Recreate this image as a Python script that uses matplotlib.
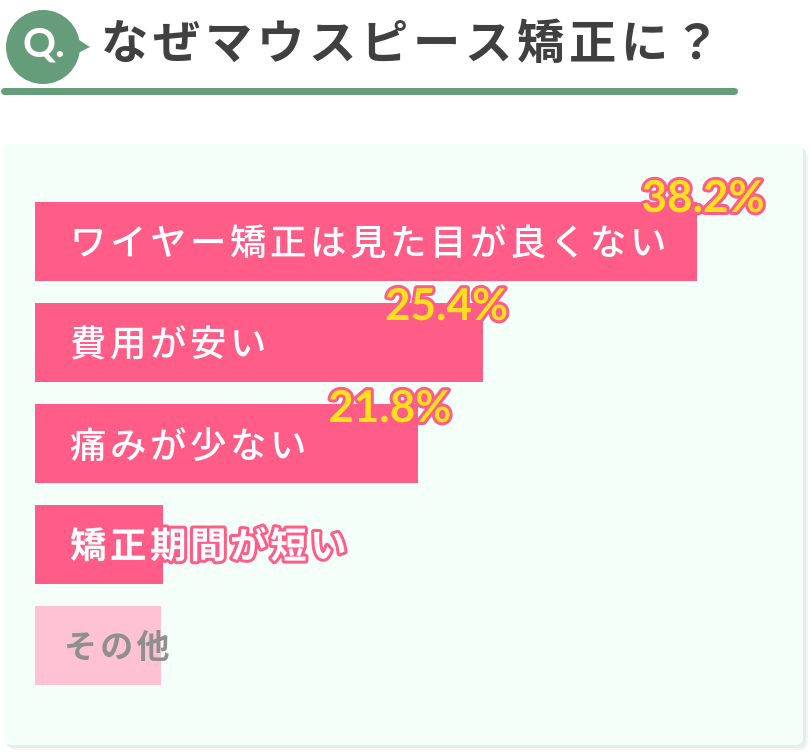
import matplotlib
matplotlib.use("Agg")
import matplotlib.pyplot as plt
import matplotlib.patheffects as pe
from matplotlib.patches import FancyBboxPatch, Circle, Polygon

W, H = 811, 752
HS = "\u200a"
JP = ['Noto Sans CJK JP', 'DejaVu Sans']

title = "なぜマウスピース矯正に？"
categories = ["ワイヤー矯正は見た目が良くない", "費用が安い", "痛みが少ない", "矯正期間が短い", "その他"]
bar_values = [37.8, 25.6, 21.9, 7.3, 7.2]
value_labels = ["38.2%", "25.4%", "21.8%", "", ""]
label_dx = [-55, -98, -90, 0, 0]
label_dy = [-4, 3, 4, 0, 0]

GREEN = "#659C7A"; PINK = "#FF5C87"; PALE = "#FFC2D4"; MINT = "#F4FFFA"; YEL = "#FFE01F"
px = 72 / 100

fig = plt.figure(figsize=(W / 100, H / 100), dpi=100, facecolor="white")
bg = fig.add_axes([0, 0, 1, 1])
bg.set_xlim(0, W); bg.set_ylim(H, 0); bg.axis("off")

# panel with soft shadow
for off, col in [(5, "#F4F5F5"), (3, "#EAECEB")]:
    bg.add_patch(FancyBboxPatch((11 + off, 152 + off), 784, 585,
                                boxstyle="round,pad=8", fc=col, ec="none"))
bg.add_patch(FancyBboxPatch((11, 152), 784, 585, boxstyle="round,pad=8", fc=MINT, ec="none"))

# header
bg.add_patch(Circle((43, 47), 37, fc=GREEN, ec="none"))
bg.add_patch(Polygon([[76, 38], [90, 47], [76, 54]], closed=True, fc=GREEN, ec="none"))
bg.text(44, 45, "Q.", color="white", fontsize=41 * px, fontweight="bold", family="Lato",
        ha="center", va="center")
bg.plot([3.5, 733.5], [91, 91], color=GREEN, lw=7 * px, solid_capstyle="round")
bg.text(101, 45, HS.join(title), color="#404040", fontsize=47.3 * px, fontweight="bold", family=JP,
        ha="left", va="center")

# bars
top, bottom = 191, 696
left = 35
scale = 17.5
ax = fig.add_axes([left / W, 1 - bottom / H, (W - left) / W, (bottom - top) / H])
ax.patch.set_alpha(0)
ax.set_xlim(0, (W - left) / scale)
ax.set_ylim(4.5, -0.5)
ax.axis("off")
pos = list(range(len(categories)))
colors = [PINK, PINK, PINK, PINK, PALE]
ax.barh(pos, bar_values, height=79 / 101, color=colors)

for i, c in enumerate(categories):
    other = i == 4
    x_txt = (64 - left if other else 70 - left) / scale
    t = ax.text(x_txt, i + 3 / 101, HS.join(c), color="#8F8F8F" if other else "white",
                fontsize=(33 if other else 36.4) * px,
                fontweight="bold" if other or i == 3 else "medium", family=JP,
                ha="left", va="center")
    if i == 3:
        t.set_path_effects([pe.withStroke(linewidth=6 * px, foreground=PINK)])

for i, (v, lab) in enumerate(zip(bar_values, value_labels)):
    if not lab:
        continue
    bar_top = i - 79 / 202
    t = ax.text(v + label_dx[i] / scale, bar_top + (label_dy[i] + 1) / 101, lab, color=YEL,
                fontsize=44 * px, fontweight="bold", family="Lato", ha="left", va="center")
    t.set_path_effects([pe.withStroke(linewidth=6 * px, foreground=PINK)])

fig.savefig("out.png", dpi=100, facecolor="white")
